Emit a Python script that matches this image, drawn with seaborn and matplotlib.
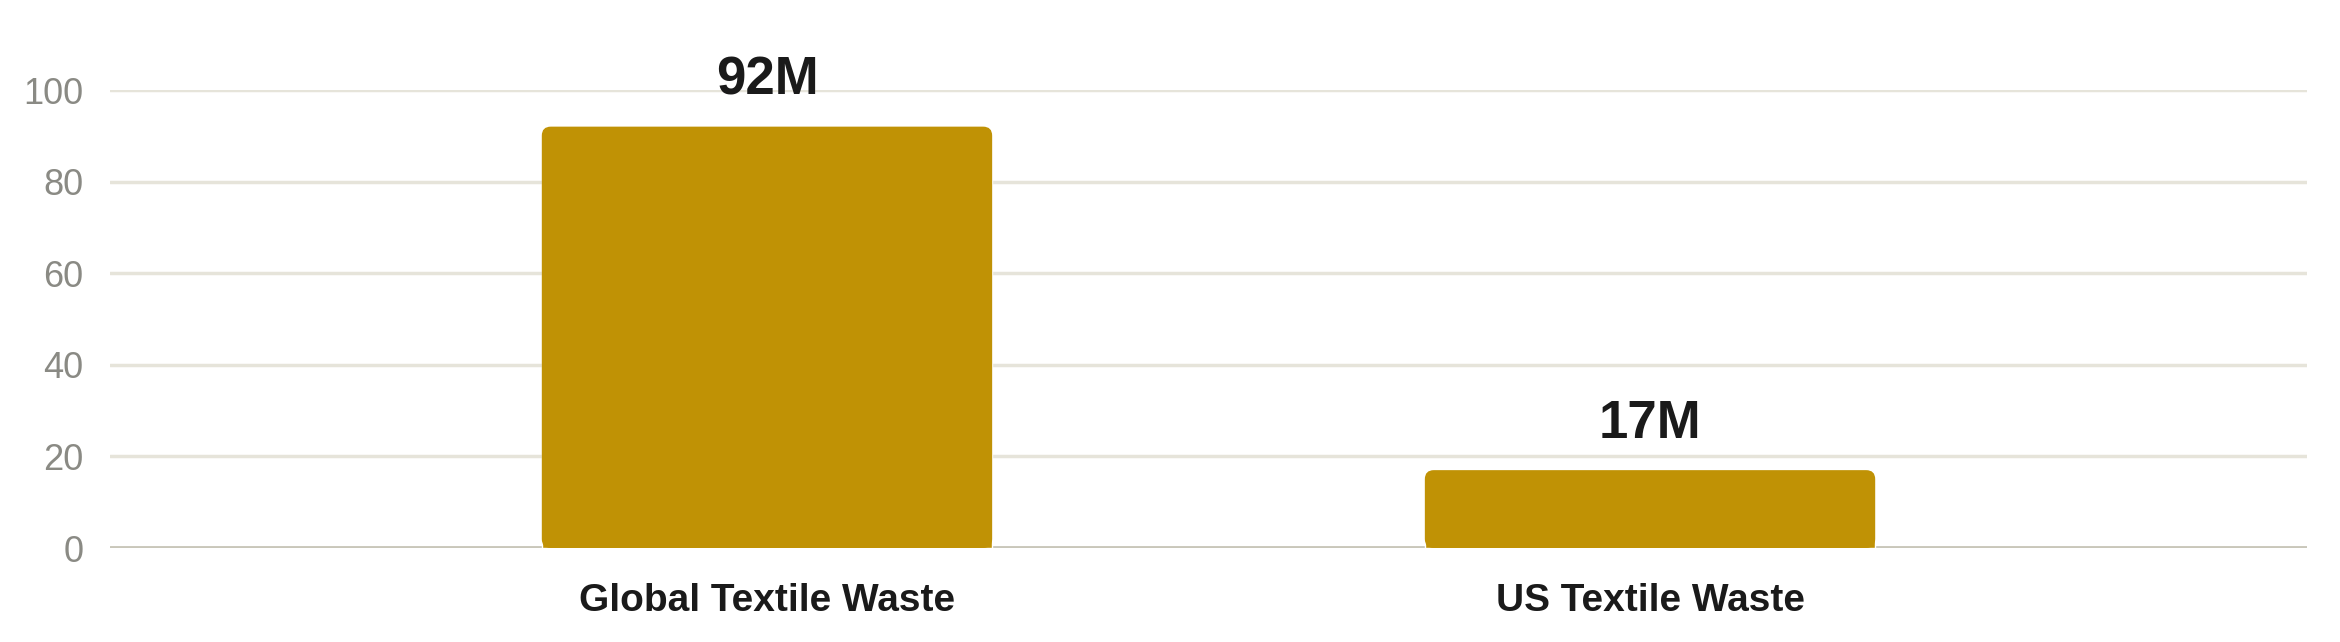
import matplotlib
matplotlib.use("Agg")
import matplotlib.pyplot as plt
import seaborn as sns
import pandas as pd
from matplotlib.patches import FancyBboxPatch

categories = ["Global Textile Waste", "US Textile Waste"]
values = [92, 17]
value_labels = ["92M", "17M"]
yticks = [0, 20, 40, 60, 80, 100]

BAR = "#C09205"
GRID = "#E6E4DA"
BASE = "#C9C7BA"
TICK = "#8A8A84"
DARK = "#1A1A1A"

sns.set_theme(style="white")
plt.rcParams["font.family"] = ["Liberation Sans", "DejaVu Sans"]

df = pd.DataFrame({"category": categories, "value": values})

fig = plt.figure(figsize=(23.4, 6.42), dpi=100)
ax = fig.add_axes([110 / 2340, 1 - 548 / 642, (2307 - 110) / 2340, (548 - 90) / 642])

sns.barplot(data=df, x="category", y="value", color=BAR, width=0.51,
            saturation=1, ax=ax, zorder=3)

ax.set_xlim(-0.744, 1.744)
ax.set_ylim(0, 100)
ax.set_yticks(yticks)
ax.set_yticklabels([str(t) for t in yticks])
ax.yaxis.grid(True, color=GRID, linewidth=2.5, zorder=0)
ax.set_axisbelow(True)
for s in ax.spines.values():
    s.set_visible(False)
ax.axhline(0, color=BASE, linewidth=3.5, zorder=2)
ax.set_xlabel("")
ax.set_ylabel("")
ax.tick_params(axis="y", length=0, pad=19, labelsize=26, labelcolor=TICK)
ax.tick_params(axis="x", length=0, pad=25, labelsize=28)
for lbl in ax.get_xticklabels():
    lbl.set_fontweight("bold")
    lbl.set_color(DARK)

# rounded top corners derived from each bar's geometry
fig.canvas.draw()
inv = ax.transData.inverted()
p0 = inv.transform((0, 0))
p1 = inv.transform((1, 1))
dx_per_px = p1[0] - p0[0]
dy_per_px = p1[1] - p0[1]
rad_px = 9
for bar in list(ax.patches):
    x, y = bar.get_x(), bar.get_y()
    w, h = bar.get_width(), bar.get_height()
    r_y = rad_px * dy_per_px
    bar.set_height(max(h - r_y * 1.5, 0))
    rp = FancyBboxPatch((x, y), w, h,
                        boxstyle=f"round,pad=0,rounding_size={rad_px * dx_per_px}",
                        mutation_aspect=dy_per_px / dx_per_px,
                        facecolor=BAR, edgecolor="none", zorder=3)
    ax.add_patch(rp)

for i, (v, lab) in enumerate(zip(values, value_labels)):
    ax.annotate(lab, xy=(i, v), xytext=(0, 23.5), textcoords="offset points",
                ha="center", va="baseline", fontsize=38, fontweight="bold",
                color=DARK, annotation_clip=False)

fig.savefig("out.png", dpi=100, facecolor="white")
